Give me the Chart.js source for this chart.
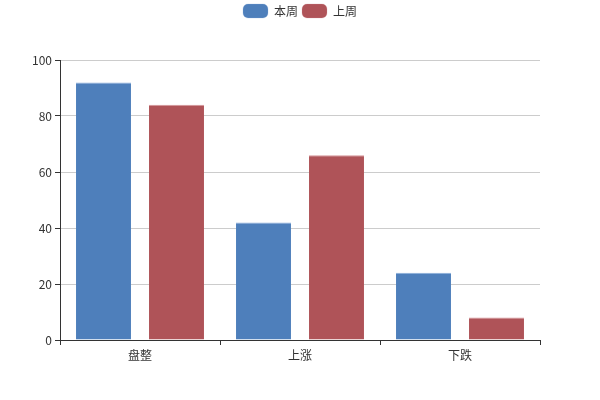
<!DOCTYPE html>
<html><head><meta charset="utf-8">
<script src="https://cdn.jsdelivr.net/npm/chart.js@4/dist/chart.umd.min.js"></script>
<style>html,body{margin:0;padding:0;background:#fff}#wrap{width:600px;height:400px}</style>
</head><body><div id="wrap"><canvas id="c" width="600" height="400"></canvas></div>
<script>
const categories = ['盘整', '上涨', '下跌'];
const thisWeek = [92, 42, 24];
const lastWeek = [84, 66, 8];
const seriesNames = ['本周', '上周'];

const FONT = '"Noto Sans CJK SC", "Noto Sans", sans-serif';
const legendHeight = {
  id: 'legendHeight',
  beforeUpdate(chart) {
    const lg = chart.legend;
    if (lg && !lg._patched) {
      const orig = lg.fit.bind(lg);
      lg.fit = function () { orig(); this.height = 60; };
      lg._patched = true;
    }
  }
};

new Chart(document.getElementById('c'), {
  type: 'bar',
  data: {
    labels: categories,
    datasets: [
      { label: seriesNames[0], data: thisWeek, backgroundColor: '#4e7fbb',
        borderColor: '#8aaedb', borderWidth: {top: 1, right: 0, left: 0, bottom: 0}, borderSkipped: 'bottom',
        categoryPercentage: 0.9125, barPercentage: 0.753, yAxisID: 'y' },
      { label: seriesNames[1], data: lastWeek, backgroundColor: '#af5358',
        borderColor: '#d69599', borderWidth: {top: 1, right: 0, left: 0, bottom: 0}, borderSkipped: 'bottom',
        categoryPercentage: 0.9125, barPercentage: 0.753, yAxisID: 'y' }
    ]
  },
  options: {
    responsive: false,
    animation: false,
    layout: { padding: 0 },
    plugins: {
      tooltip: { enabled: false },
      legend: {
        position: 'top',
        labels: {
          boxWidth: 25, boxHeight: 14, useBorderRadius: true, borderRadius: 5,
          padding: 4, color: '#333', font: { family: FONT, size: 12 }
        }
      }
    },
    scales: {
      x: {
        afterFit(s) { s.height = 60; },
        grid: { offset: true, drawOnChartArea: false, tickLength: 5, tickColor: '#333', color: '#333' },
        border: { color: '#333', width: 1 },
        ticks: { color: '#333', font: { family: FONT, size: 12 }, padding: 3 }
      },
      y: {
        min: 0, max: 100,
        afterFit(s) { s.width = 60; },
        grid: { color: '#ccc', tickLength: 5, tickColor: '#333' },
        border: { color: '#333', width: 1 },
        ticks: { stepSize: 20, color: '#333', font: { family: FONT, size: 12 }, padding: 3 }
      },
      yRight: {
        position: 'right', min: 0, max: 100,
        afterFit(s) { s.width = 60; },
        grid: { display: false, drawOnChartArea: false },
        border: { display: false },
        ticks: { display: false }
      }
    }
  },
  plugins: [legendHeight]
});
</script></body></html>
